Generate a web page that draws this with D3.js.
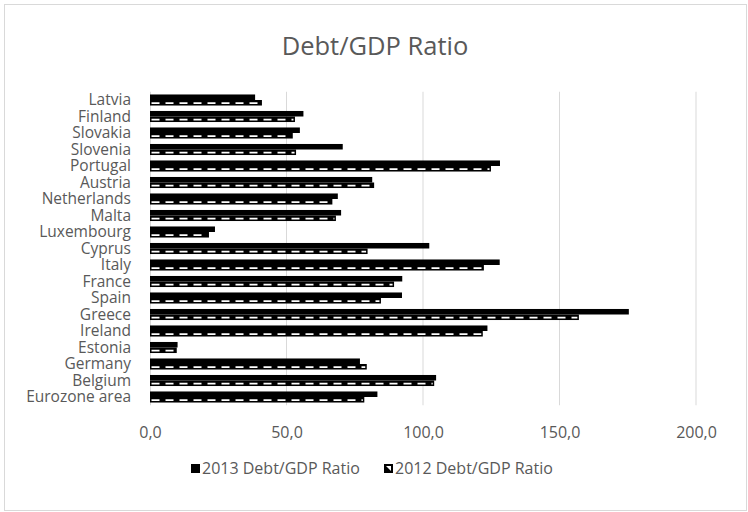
<!DOCTYPE html>
<html><head><meta charset="utf-8">
<script src="https://cdn.jsdelivr.net/npm/d3@7"></script>
<style>body{margin:0;background:#fff}svg{display:block}</style>
</head><body>
<svg id="c" width="748" height="512"></svg>
<script>
const categories = ["Latvia","Finland","Slovakia","Slovenia","Portugal","Austria","Netherlands","Malta","Luxembourg","Cyprus","Italy","France","Spain","Greece","Ireland","Estonia","Germany","Belgium","Eurozone area"];
const values2013 = [38.5,56.2,54.9,70.6,128.2,81.4,68.8,70.0,23.8,102.3,128.1,92.4,92.3,175.4,123.6,10.1,76.9,104.8,83.3];
const values2012 = [41.0,53.1,52.3,53.5,124.9,82.1,66.8,68.1,21.6,79.7,122.3,89.4,84.6,157.1,121.9,9.8,79.4,104.1,78.5];
const tickValues = [0,50,100,150,200];
const seriesNames = ["2013 Debt/GDP Ratio","2012 Debt/GDP Ratio"];

const svg = d3.select("#c");
const font = "'Open Sans', sans-serif";
const gray = "#595959";

svg.append("rect").attr("x",4.5).attr("y",4.5).attr("width",742).attr("height",506)
  .attr("fill","#fff").attr("stroke","#d9d9d9").attr("stroke-width",1);

svg.append("text").attr("x",375).attr("y",55).attr("text-anchor","middle")
  .attr("font-family",font).attr("font-size",25.5).attr("fill",gray).text("Debt/GDP Ratio");

const x = d3.scaleLinear().domain([0,200]).range([150,696]);
const y = d3.scaleBand().domain(categories).range([91.75,405.25]).paddingInner(0.33).paddingOuter(0.165);
const sub = d3.scaleBand().domain(["2013","2012"]).range([0,y.bandwidth()]);

// gridlines
svg.append("g").selectAll("line").data(tickValues.slice(1)).join("line")
  .attr("x1",d=>x(d)).attr("x2",d=>x(d)).attr("y1",91.75).attr("y2",405.25)
  .attr("stroke","#d9d9d9").attr("stroke-width",1);

// x axis tick labels
const xAxis = d3.axisBottom(x).tickValues(tickValues).tickSize(0).tickPadding(0)
  .tickFormat(d=>d3.format(".1f")(d).replace(".",","));
const gx = svg.append("g").attr("transform","translate(0,438)").call(xAxis);
gx.select(".domain").remove();
gx.selectAll("text").attr("font-family",font).attr("font-size",16).attr("fill",gray).attr("dy",0).attr("y",0);

// y axis
const yAxis = d3.axisLeft(y).tickSize(0).tickPadding(19);
const gy = svg.append("g").attr("transform","translate(150,0)").call(yAxis);
gy.select(".domain").attr("stroke","#d9d9d9").attr("stroke-width",1).attr("d","M0.5,91.75V405.25");
gy.selectAll("text").attr("font-family",font).attr("font-size",15.5).attr("fill",gray).attr("dy","0.35em");

// 2013 bars
svg.append("g").selectAll("rect").data(categories).join("rect")
  .attr("x",x(0)).attr("y",(d)=>y(d)+sub("2013"))
  .attr("width",(d,i)=>x(values2013[i])-x(0)).attr("height",sub.bandwidth())
  .attr("fill","#000");

// 2012 bars: black with white dashed diagonal-hatch look
const g12 = svg.append("g");
g12.selectAll("rect").data(categories).join("rect")
  .attr("x",x(0)).attr("y",(d)=>y(d)+sub("2012"))
  .attr("width",(d,i)=>x(values2012[i])-x(0)).attr("height",sub.bandwidth())
  .attr("fill","#000");
g12.selectAll("line").data(categories).join("line")
  .attr("x1",x(0)+1.5).attr("x2",(d,i)=>x(values2012[i])-1.5)
  .attr("y1",(d)=>y(d)+sub("2012")+sub.bandwidth()/2+0.3)
  .attr("y2",(d)=>y(d)+sub("2012")+sub.bandwidth()/2+0.3)
  .attr("stroke","#fff").attr("stroke-width",1.8).attr("stroke-dasharray","8,6");

// legend
const lg = svg.append("g");
lg.append("rect").attr("x",191).attr("y",464).attr("width",9).attr("height",9).attr("fill","#000");
lg.append("text").attr("x",202).attr("y",474).attr("font-family",font).attr("font-size",16).attr("fill",gray).text(seriesNames[0]);
lg.append("rect").attr("x",384.5).attr("y",464.5).attr("width",8).attr("height",8).attr("fill","#000").attr("stroke","#000");
lg.append("path").attr("d","M386,466 L391,466 L391,471 Z").attr("fill","#fff");
lg.append("text").attr("x",395).attr("y",474).attr("font-family",font).attr("font-size",16).attr("fill",gray).text(seriesNames[1]);
</script>
</body></html>
